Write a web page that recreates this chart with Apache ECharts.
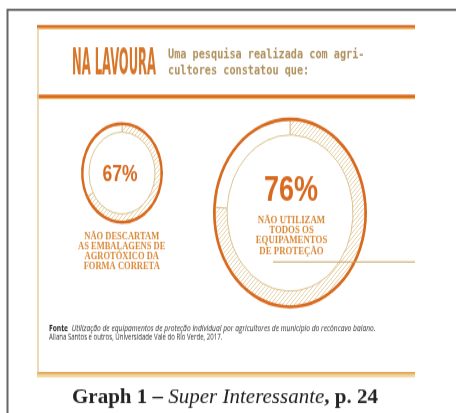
<!DOCTYPE html>
<html>
<head>
<meta charset="utf-8">
<script src="https://cdn.jsdelivr.net/npm/echarts@6/dist/echarts.min.js"></script>
<style>
  html, body { margin: 0; padding: 0; background: #fff; overflow: hidden; }
  #wrap { width: 456px; height: 413px; overflow: hidden; position: relative; }
  #chart { width: 456px; height: 333px; transform: scaleY(1.24); transform-origin: 0 0; }
</style>
</head>
<body>
<div id="wrap"><div id="chart"></div></div>
<script>
// ---- data ----
const titleText = 'NA LAVOURA';
const subtitleLines = ['Uma pesquisa realizada com agri-', 'cultores constatou que:'];
const percentages = [67, 76];
const leftCaption = ['NÃO DESCARTAM', 'AS EMBALAGENS DE', 'AGROTÓXICO DA', 'FORMA CORRETA'];
const rightCaption = ['NÃO UTILIZAM', 'TODOS OS', 'EQUIPAMENTOS', 'DE PROTEÇÃO'];
const sourceLabel = 'Fonte';
const sourceLine1 = 'Utilização de equipamentos de proteção individual por agricultores de município do recôncavo baiano.';
const sourceLine2 = 'Allana Santos e outros, Universidade Vale do Rio Verde, 2017.';
const graphCaption = ['Graph 1 – ', 'Super Interessante', ', p. 24'];

// ---- styling ----
const S = 1.24;
const ORANGE = '#d86a1f';
const TITLE_ORANGE = '#d8772b';
const TAN = '#d9bd88';
const HATCH = '#e2c896';

function hatchPattern() {
  const c = document.createElement('canvas');
  c.width = 4; c.height = 4;
  const g = c.getContext('2d');
  g.fillStyle = '#fff'; g.fillRect(0, 0, 4, 4);
  g.strokeStyle = HATCH; g.lineWidth = 0.8;
  g.beginPath();
  g.moveTo(0, 4); g.lineTo(4, 0);
  g.moveTo(-1, 1); g.lineTo(1, -1);
  g.moveTo(3, 5); g.lineTo(5, 3);
  g.stroke();
  return { image: c, repeat: 'repeat' };
}

const donuts = [
  { center: [122, 139.5], inner: 33, outer: 41, ring: 2.4 },
  { center: [290, 171.8], inner: 63, outer: 77, ring: 2.6 }
];

const series = [];
percentages.forEach(function (p, i) {
  const d = donuts[i];
  series.push({
    type: 'pie', silent: true, animation: false,
    center: d.center, radius: [d.inner, d.outer - d.ring + 0.5],
    startAngle: 90, clockwise: true,
    label: { show: false }, labelLine: { show: false },
    itemStyle: { borderColor: TAN, borderWidth: 0.9 },
    data: [
      { value: p, itemStyle: { color: hatchPattern() } },
      { value: 100 - p, itemStyle: { color: '#fff' } }
    ]
  });
  series.push({
    type: 'pie', silent: true, animation: false,
    center: d.center, radius: [d.outer - d.ring, d.outer],
    startAngle: 90, clockwise: true,
    label: { show: false }, labelLine: { show: false },
    itemStyle: { color: ORANGE, borderWidth: 0 },
    data: [{ value: p }, { value: 100 - p }]
  });
});

function sy(v) { return v / S; }

const graphics = [];
// outer gray frame
graphics.push({ type: 'line', z: 1, shape: { x1: 7, y1: sy(9.8), x2: 456, y2: sy(9.8) }, style: { stroke: '#666', lineWidth: 1.6 } });
graphics.push({ type: 'line', z: 1, shape: { x1: 7.5, y1: sy(9), x2: 7.5, y2: 340 }, style: { stroke: '#666', lineWidth: 2 } });
// magazine rules
graphics.push({ type: 'rect', z: 1, shape: { x: 37, y: sy(25), width: 378, height: sy(3.2) }, style: { fill: ORANGE } });
graphics.push({ type: 'rect', z: 1, shape: { x: 37, y: sy(28.2), width: 378, height: sy(1.4) }, style: { fill: '#f2c46a' } });
graphics.push({ type: 'rect', z: 1, shape: { x: 37, y: sy(94.5), width: 378, height: sy(3.4) }, style: { fill: ORANGE } });
graphics.push({ type: 'rect', z: 1, shape: { x: 37, y: sy(97.9), width: 378, height: sy(1.2) }, style: { fill: '#f2c46a' } });
graphics.push({ type: 'rect', z: 1, shape: { x: 37, y: sy(372), width: 378, height: sy(2.2) }, style: { fill: '#e29a45' } });
graphics.push({ type: 'rect', z: 1, shape: { x: 37, y: sy(374.2), width: 378, height: sy(3) }, style: { fill: '#efd59a' } });
graphics.push({ type: 'line', z: 1, shape: { x1: 38, y1: sy(28), x2: 38, y2: sy(373) }, style: { stroke: '#e6cf9f', lineWidth: 1.5 } });
// tan rule from big donut
graphics.push({ type: 'line', z: 50, shape: { x1: 273, y1: sy(262), x2: 415, y2: sy(262) }, style: { stroke: '#c9a465', lineWidth: 1.1 } });

// title
graphics.push({ type: 'text', z: 50, x: 72, y: sy(64.5), scaleX: 0.415,
  style: { text: titleText, fontFamily: 'Liberation Sans Narrow, DejaVu Sans Condensed, sans-serif', fontWeight: 'bold', fontSize: 31, fill: TITLE_ORANGE, align: 'left', verticalAlign: 'middle' } });
// subtitle
subtitleLines.forEach(function (t, i) {
  graphics.push({ type: 'text', z: 50, x: 168, y: sy(i === 0 ? 55 : 71.6), scaleX: 1.02,
    style: { text: t, fontFamily: 'DejaVu Sans Mono, monospace', fontWeight: 'bold', fontSize: 10, fill: '#b0915e', align: 'left', verticalAlign: 'middle' } });
});
// percentages
graphics.push({ type: 'text', z: 50, x: 120, y: sy(174), scaleX: 0.92,
  style: { text: percentages[0] + '%', fontFamily: 'Liberation Sans, Arial, sans-serif', fontWeight: 'bold', fontSize: 19, fill: ORANGE, align: 'center', verticalAlign: 'middle' } });
graphics.push({ type: 'text', z: 50, x: 291, y: sy(191), scaleX: 0.9,
  style: { text: percentages[1] + '%', fontFamily: 'Liberation Sans, Arial, sans-serif', fontWeight: 'bold', fontSize: 30, fill: ORANGE, align: 'center', verticalAlign: 'middle' } });
// captions
const leftY = [237.3, 247.3, 257.3, 267];
leftCaption.forEach(function (t, i) {
  graphics.push({ type: 'text', z: 50, x: 121.7, y: sy(leftY[i]), scaleX: 1.12,
    style: { text: t, fontFamily: 'Liberation Serif, Times New Roman, serif', fontWeight: 'bold', fontSize: 7.6, fill: '#db8a3a', align: 'center', verticalAlign: 'middle' } });
});
const rightY = [220.7, 230.7, 240.7, 251.2];
rightCaption.forEach(function (t, i) {
  graphics.push({ type: 'text', z: 50, x: 291.5, y: sy(rightY[i]), scaleX: 1.16,
    style: { text: t, fontFamily: 'Liberation Serif, Times New Roman, serif', fontWeight: 'bold', fontSize: 7.6, fill: '#db8a3a', align: 'center', verticalAlign: 'middle' } });
});
// source
graphics.push({ type: 'text', z: 50, x: 49, y: sy(329), scaleX: 1.08,
  style: { text: '{b|' + sourceLabel + '} {i|' + sourceLine1 + '}', align: 'left', verticalAlign: 'middle',
    rich: {
      b: { fontFamily: 'Open Sans, Noto Sans, sans-serif', fontWeight: 'bold', fontSize: 6.2, fill: '#222' },
      i: { fontFamily: 'Open Sans, Noto Sans, sans-serif', fontStyle: 'italic', fontSize: 6.2, fill: '#333' }
    } } });
graphics.push({ type: 'text', z: 50, x: 49, y: sy(337.5), scaleX: 0.98,
  style: { text: sourceLine2, fontFamily: 'Open Sans, Noto Sans, sans-serif', fontSize: 6.2, fill: '#333', align: 'left', verticalAlign: 'middle' } });
// graph caption (unstretched)
graphics.push({ type: 'text', z: 50, x: 225, y: sy(398), scaleY: 1 / S,
  style: { text: '{b|' + graphCaption[0] + '}{i|' + graphCaption[1] + '}{b|' + graphCaption[2] + '}', align: 'center', verticalAlign: 'middle',
    rich: {
      b: { fontFamily: 'Liberation Serif, Times New Roman, serif', fontWeight: 'bold', fontSize: 21, fill: '#222' },
      i: { fontFamily: 'Liberation Serif, Times New Roman, serif', fontStyle: 'italic', fontSize: 21, fill: '#222' }
    } } });

const chart = echarts.init(document.getElementById('chart'), null, { renderer: 'canvas' });
chart.setOption({
  backgroundColor: '#fff',
  animation: false,
  series: series,
  graphic: { elements: graphics }
});
</script>
</body>
</html>
